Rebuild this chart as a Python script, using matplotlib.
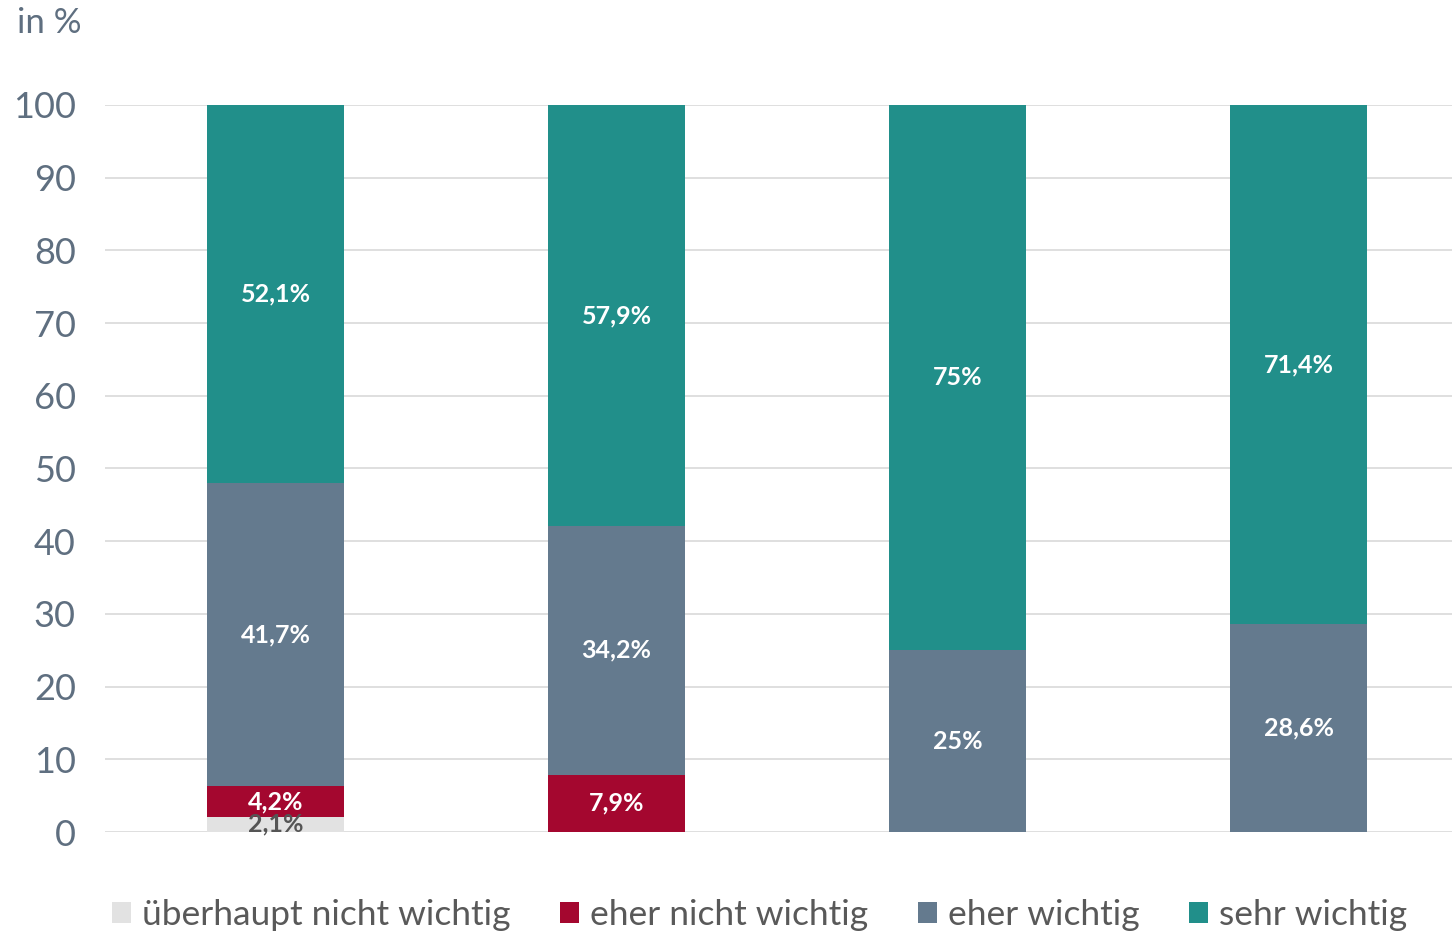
import matplotlib
matplotlib.use("Agg")
import matplotlib.pyplot as plt
import numpy as np

plt.rcParams['font.family'] = ['Lato', 'DejaVu Sans']

categories = ["1", "2", "3", "4"]
series_names = ["überhaupt nicht wichtig", "eher nicht wichtig", "eher wichtig", "sehr wichtig"]
ueberhaupt_nicht = [2.1, 0.0, 0.0, 0.0]
eher_nicht = [4.2, 7.9, 0.0, 0.0]
eher_wichtig = [41.7, 34.2, 25.0, 28.6]
sehr_wichtig = [52.1, 57.9, 75.0, 71.4]
labels_ueberhaupt = ["2,1%", "", "", ""]
labels_eher_nicht = ["4,2%", "7,9%", "", ""]
labels_eher_wichtig = ["41,7%", "34,2%", "25%", "28,6%"]
labels_sehr = ["52,1%", "57,9%", "75%", "71,4%"]
yticks = [0, 10, 20, 30, 40, 50, 60, 70, 80, 90, 100]

colors = ["#E2E2E2", "#A4072F", "#647A8E", "#218F8A"]
text_colors = ["#555555", "white", "white", "white"]

fig = plt.figure(figsize=(14.52, 9.34), dpi=100)
ax = fig.add_axes([0.0723, 0.1092, 0.9277, 0.7784])

x = np.arange(len(categories))
width = 0.4
bottom = np.zeros(len(categories))
handles = []
all_series = [ueberhaupt_nicht, eher_nicht, eher_wichtig, sehr_wichtig]
all_labels = [labels_ueberhaupt, labels_eher_nicht, labels_eher_wichtig, labels_sehr]
for vals, labs, name, c, tc in zip(all_series, all_labels, series_names, colors, text_colors):
    vals = np.array(vals)
    b = ax.bar(x, vals, width, bottom=bottom, color=c, label=name, zorder=2)
    handles.append(b)
    for xi, v, bt, lab in zip(x, vals, bottom, labs):
        if lab:
            ax.text(xi, bt + v / 2, lab, ha='center', va='center', color=tc,
                    fontsize=18, fontweight='bold', zorder=3)
    bottom = bottom + vals

ax.set_ylim(0, 100)
ax.set_xlim(-0.5, 3.45)
ax.set_yticks(yticks)
ax.set_yticklabels([str(t) for t in yticks])
ax.set_xticks([])
ax.grid(axis='y', color='#D9D9D9', linewidth=1.2, zorder=0)
for s in ax.spines.values():
    s.set_visible(False)
ax.tick_params(axis='y', length=0, labelsize=26, labelcolor='#5F6F80', pad=21)

fig.text(0.012, 0.975, "in %", fontsize=25, color='#5F6F80', ha='left', va='center')

fig.legend(handles=handles, labels=series_names, loc='center', bbox_to_anchor=(0.523, 0.02),
           ncol=4, frameon=False, fontsize=25.5, labelcolor='#595959',
           handlelength=0.55, handleheight=0.55, handletextpad=0.3, columnspacing=1.4)

fig.savefig("out.png", dpi=100)
